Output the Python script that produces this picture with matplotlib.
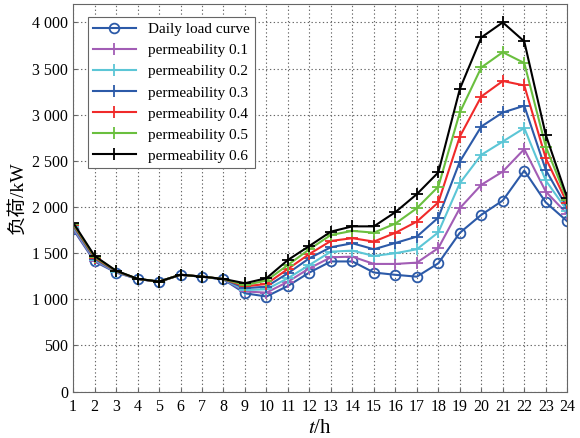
import matplotlib

matplotlib.use("Agg")
from matplotlib import pyplot as plt
from matplotlib.ticker import FuncFormatter, MultipleLocator

plt.rcParams["font.family"] = ["Liberation Serif", "Noto Sans CJK SC"]
plt.rcParams["mathtext.fontset"] = "stix"

hours = list(range(1, 25))

daily_load = [1760, 1410, 1290, 1220, 1190, 1265, 1245, 1215, 1065, 1030, 1145, 1290,
              1410, 1410, 1290, 1265, 1245, 1390, 1720, 1915, 2070, 2395, 2050, 1845]
perm_01 = [1770, 1420, 1295, 1220, 1190, 1265, 1245, 1217, 1085, 1072, 1190, 1336,
           1455, 1462, 1383, 1383, 1397, 1555, 1987, 2240, 2384, 2627, 2167, 1925]
perm_02 = [1785, 1430, 1298, 1220, 1190, 1265, 1245, 1218, 1100, 1108, 1228, 1372,
           1516, 1527, 1470, 1499, 1542, 1725, 2258, 2565, 2709, 2855, 2287, 1960]
perm_03 = [1800, 1440, 1302, 1221, 1191, 1265, 1245, 1218, 1120, 1137, 1282, 1445,
           1564, 1607, 1542, 1610, 1679, 1885, 2492, 2872, 3024, 3097, 2402, 1990]
perm_04 = [1810, 1450, 1305, 1221, 1191, 1266, 1246, 1219, 1140, 1166, 1329, 1491,
           1632, 1662, 1625, 1720, 1842, 2050, 2763, 3197, 3365, 3317, 2529, 2040]
perm_05 = [1820, 1460, 1308, 1222, 1192, 1266, 1246, 1219, 1155, 1202, 1372, 1542,
           1697, 1741, 1722, 1820, 1987, 2221, 3024, 3512, 3677, 3560, 2655, 2077]
perm_06 = [1831, 1470, 1310, 1222, 1192, 1266, 1246, 1220, 1174, 1228, 1426, 1578,
           1733, 1790, 1790, 1944, 2139, 2375, 3278, 3837, 4000, 3794, 2782, 2100]

series = [
    ("permeability 0.1", perm_01, "#a25db5"),
    ("permeability 0.2", perm_02, "#5cc6d6"),
    ("permeability 0.3", perm_03, "#2c5aa8"),
    ("permeability 0.4", perm_04, "#f02a2a"),
    ("permeability 0.5", perm_05, "#6abf3e"),
    ("permeability 0.6", perm_06, "#000000"),
]

fig = plt.figure(figsize=(5.8, 4.38), dpi=100)
ax = fig.add_axes([0.126, 0.106, 0.852, 0.885])

ax.plot(hours, daily_load, color="#2c5aa8", lw=1.5, marker="o", ms=7,
        mfc="none", mew=1.3, label="Daily load curve")
for label, values, color in series:
    ax.plot(hours, values, color=color, lw=1.5, marker="+", ms=9, mew=1.3, label=label)

ax.set_xlim(1, 24)
ax.set_ylim(0, 4200)
ax.set_xticks(hours)
ax.yaxis.set_major_locator(MultipleLocator(500))
ax.yaxis.set_major_formatter(FuncFormatter(
    lambda v, _: f"{int(v):,}".replace(",", " ") if v <= 4000 else ""))
ax.tick_params(direction="in", labelsize=11.5, length=3, color="#666666")
ax.tick_params(axis="x", pad=5)
ax.grid(True, linestyle=(0, (1.2, 2.2)), color="#666666", lw=0.8)
for spine in ax.spines.values():
    spine.set_color("#666666")

ax.set_xlabel("$t$/h", fontsize=15, labelpad=3)
ax.set_ylabel("负荷/kW", fontsize=14, labelpad=4)

leg = ax.legend(loc="upper left", fontsize=11, handlelength=2.8, labelspacing=0.48,
                borderpad=0.35, fancybox=False, edgecolor="#666666",
                framealpha=1, bbox_to_anchor=(0.014, 0.985))
leg.get_frame().set_linewidth(0.8)

fig.savefig("out.png", dpi=100)
